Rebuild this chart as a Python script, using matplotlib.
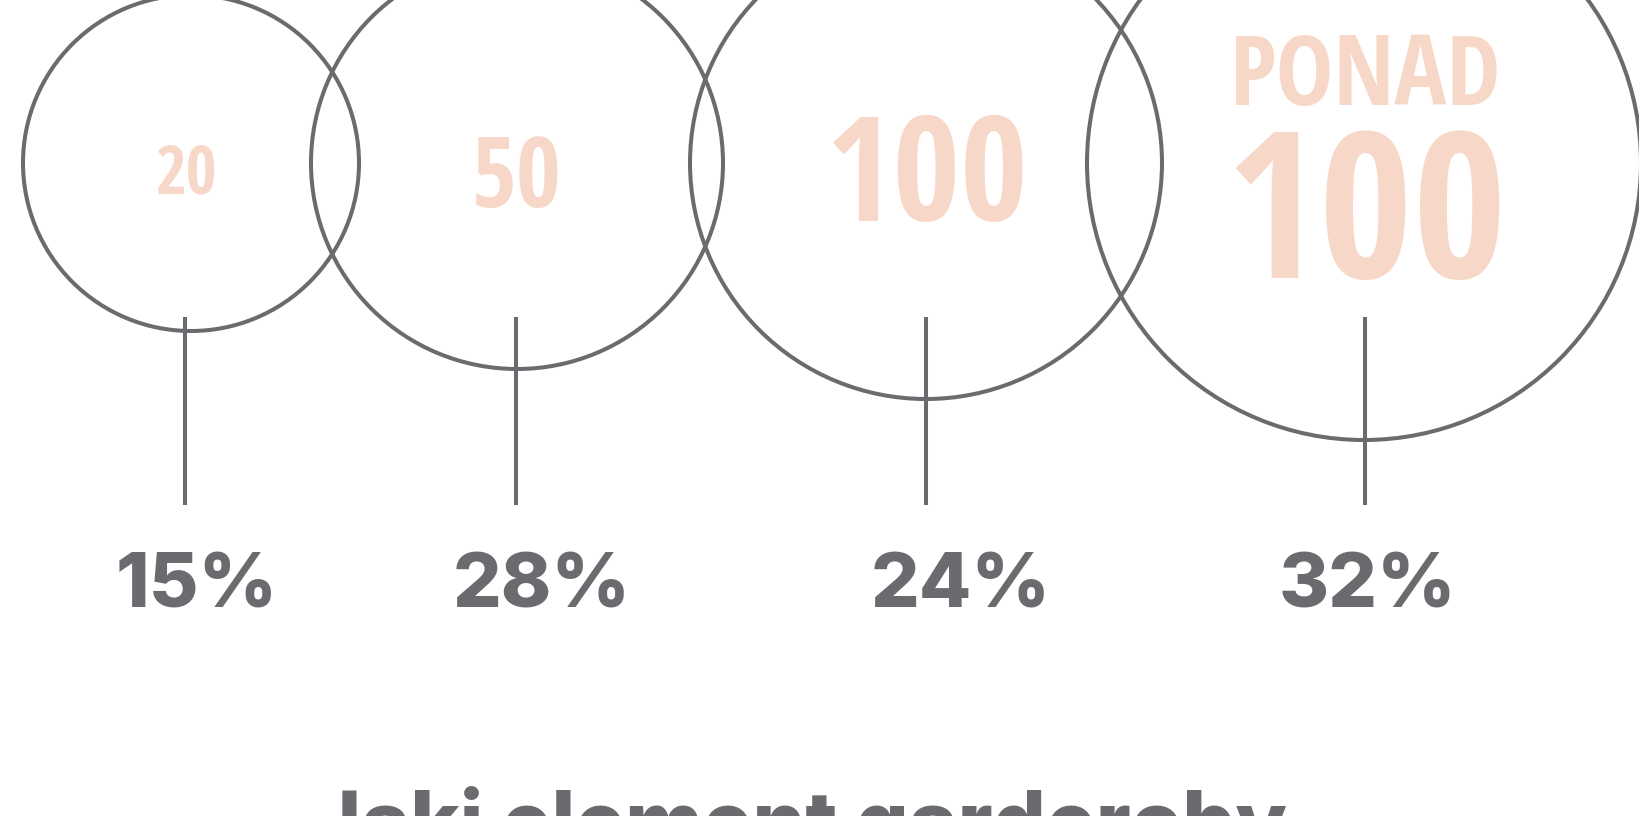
import matplotlib
matplotlib.use("Agg")
import matplotlib.pyplot as plt
from matplotlib.patches import Circle

# chart data
categories = ["20", "50", "100", "PONAD\n100"]
shares = [15, 28, 24, 32]
title = "Jaki element garderoby"

# layout (pixel units, y grows downwards)
centers_x = [191, 517, 926, 1364]
radii = [168, 206, 236, 277]
center_y = 163
stem_x = [185, 516, 926, 1365]
label_x = [197, 542, 961, 1367]
cat_x = [186, 517, 927, 1366]
cat_base = [193, 207, 221, 0]
cat_sizes = [48, 70, 105, 0]

GRAY = "#6b6a6f"
PEACH = "#f7d8c8"
NARROW = "Open Sans Condensed"
HEAVY = "Inter"

fig = plt.figure(figsize=(16.39, 8.16), dpi=100)
ax = fig.add_axes([0, 0, 1, 1])
ax.set_xlim(0, 1639)
ax.set_ylim(816, 0)
ax.axis("off")

for i in range(len(categories)):
    ax.add_patch(Circle((centers_x[i], center_y), radii[i], fill=False,
                        edgecolor=GRAY, linewidth=2.9))
    ax.plot([stem_x[i], stem_x[i]], [317, 505], color=GRAY, lw=2.9,
            solid_capstyle="butt")
    ax.text(label_x[i], 608, f"{shares[i]}%", ha="center", va="baseline",
            fontsize=55, fontweight=800, family=HEAVY, color=GRAY)

    if "\n" not in categories[i]:
        ax.text(cat_x[i], cat_base[i], categories[i], ha="center", va="baseline",
                fontsize=cat_sizes[i], fontweight="bold", family=NARROW,
                stretch="condensed", color=PEACH)
    else:
        top, bottom = categories[i].split("\n")
        ax.text(cat_x[i], 105, top, ha="center", va="baseline",
                fontsize=70, fontweight="bold", family=NARROW,
                stretch="condensed", color=PEACH)
        ax.text(cat_x[i], 278, bottom, ha="center", va="baseline",
                fontsize=146, fontweight="bold", family=NARROW,
                stretch="condensed", color=PEACH)

ax.text(799, 851, title, ha="center", va="baseline", fontsize=60,
        fontweight=800, family=HEAVY, color=GRAY)

fig.savefig("out.png", dpi=100)
